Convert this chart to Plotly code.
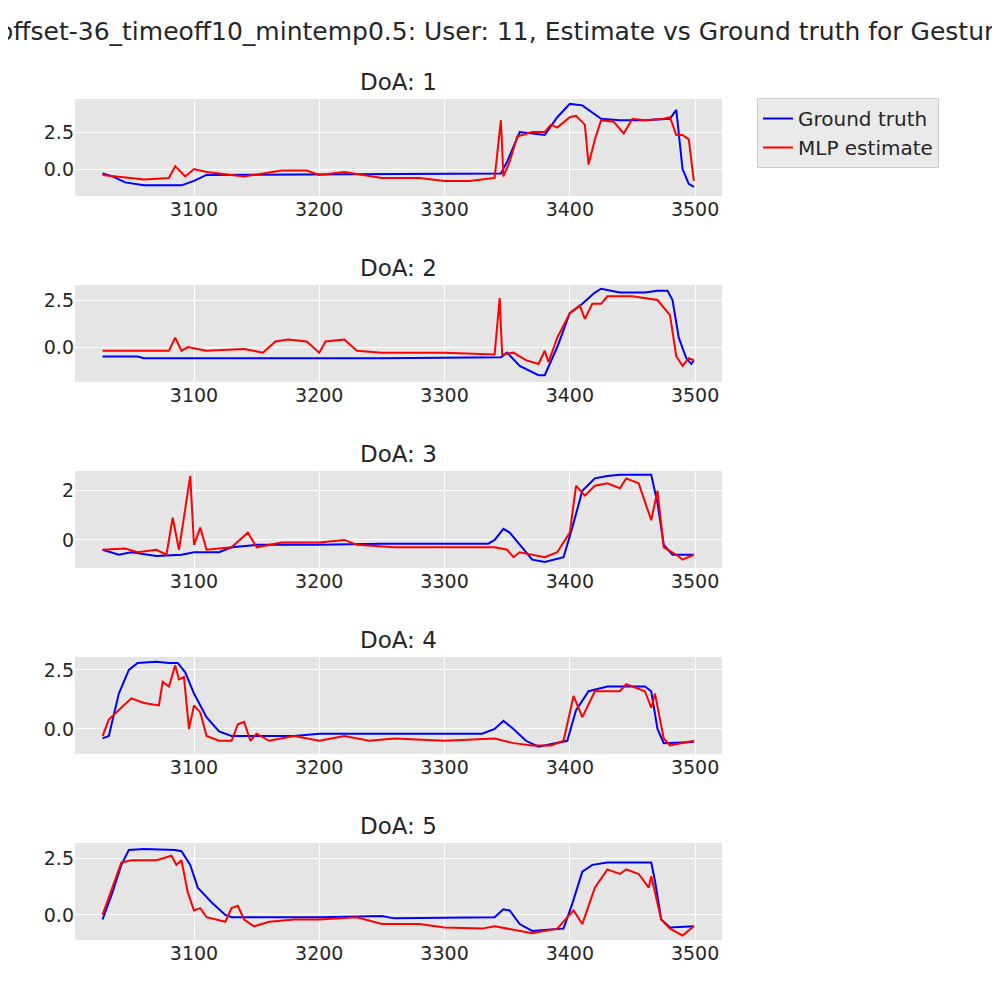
import plotly.graph_objects as go

# keypoints: (time, value)
gt_t1 = [3027, 3035, 3045, 3060, 3090, 3100, 3110, 3250, 3345, 3350, 3360, 3380, 3390, 3400, 3410, 3425, 3440, 3460, 3480, 3485, 3490, 3495, 3499]
gt_v1 = [-0.3, -0.5, -0.9, -1.1, -1.1, -0.8, -0.4, -0.35, -0.3, 0.5, 2.5, 2.3, 3.5, 4.4, 4.3, 3.4, 3.3, 3.3, 3.4, 4.0, 0.0, -1.0, -1.2]
mlp_t1 = [3027, 3040, 3060, 3080, 3085, 3093, 3100, 3110, 3140, 3170, 3190, 3200, 3220, 3250, 3280, 3300, 3320, 3340, 3345, 3347, 3352, 3358, 3370, 3380, 3385, 3390, 3400, 3405, 3412, 3415, 3420, 3425, 3435, 3443, 3450, 3460, 3475, 3480, 3485, 3490, 3495, 3499]
mlp_v1 = [-0.4, -0.5, -0.7, -0.6, 0.2, -0.5, 0.0, -0.2, -0.5, -0.1, -0.1, -0.4, -0.2, -0.6, -0.6, -0.8, -0.8, -0.6, 3.3, -0.5, 0.5, 2.2, 2.5, 2.5, 3.0, 2.8, 3.5, 3.6, 3.0, 0.3, 2.0, 3.3, 3.2, 2.4, 3.4, 3.3, 3.4, 3.5, 2.3, 2.3, 2.0, -0.8]

gt_t2 = [3027, 3055, 3060, 3250, 3345, 3350, 3360, 3375, 3380, 3390, 3400, 3410, 3420, 3425, 3440, 3460, 3470, 3478, 3482, 3487, 3493, 3497, 3499]
gt_v2 = [-0.5, -0.5, -0.6, -0.6, -0.55, -0.3, -1.0, -1.5, -1.5, 0.0, 1.8, 2.3, 2.9, 3.1, 2.9, 2.9, 3.0, 3.0, 2.5, 0.5, -0.6, -0.9, -0.7]
mlp_t2 = [3027, 3080, 3085, 3090, 3095, 3110, 3140, 3155, 3165, 3175, 3190, 3200, 3205, 3220, 3230, 3250, 3300, 3340, 3344, 3346, 3355, 3365, 3375, 3380, 3383, 3390, 3400, 3408, 3412, 3418, 3425, 3430, 3450, 3460, 3470, 3480, 3485, 3490, 3495, 3499]
mlp_v2 = [-0.2, -0.2, 0.5, -0.2, 0.0, -0.2, -0.1, -0.3, 0.3, 0.4, 0.3, -0.3, 0.3, 0.4, -0.2, -0.3, -0.3, -0.4, 2.6, -0.4, -0.3, -0.7, -0.9, -0.2, -0.8, 0.5, 1.8, 2.2, 1.5, 2.3, 2.3, 2.7, 2.7, 2.6, 2.5, 1.7, -0.5, -1.0, -0.6, -0.7]

gt_t3 = [3027, 3040, 3050, 3070, 3090, 3100, 3120, 3130, 3150, 3200, 3250, 3335, 3340, 3347, 3352, 3360, 3370, 3380, 3395, 3402, 3410, 3420, 3430, 3440, 3465, 3470, 3475, 3482, 3499]
gt_v3 = [-0.4, -0.6, -0.5, -0.65, -0.6, -0.5, -0.5, -0.3, -0.2, -0.2, -0.15, -0.15, 0.0, 0.45, 0.3, -0.2, -0.8, -0.9, -0.7, 0.5, 2.0, 2.5, 2.6, 2.65, 2.65, 1.5, -0.2, -0.6, -0.6]
mlp_t3 = [3027, 3045, 3055, 3070, 3078, 3083, 3088, 3094, 3097, 3100, 3105, 3110, 3130, 3143, 3150, 3170, 3200, 3220, 3230, 3260, 3300, 3340, 3350, 3355, 3360, 3370, 3380, 3390, 3400, 3405, 3412, 3420, 3430, 3440, 3445, 3455, 3465, 3470, 3475, 3485, 3490, 3499]
mlp_v3 = [-0.4, -0.35, -0.5, -0.4, -0.6, 0.9, -0.4, 1.5, 2.6, -0.2, 0.5, -0.4, -0.3, 0.3, -0.3, -0.1, -0.1, 0.0, -0.2, -0.3, -0.3, -0.3, -0.4, -0.7, -0.5, -0.6, -0.7, -0.5, 0.3, 2.2, 1.8, 2.2, 2.3, 2.1, 2.5, 2.3, 0.8, 2.0, -0.3, -0.6, -0.8, -0.6]

gt_t4 = [3027, 3032, 3040, 3048, 3055, 3070, 3080, 3087, 3093, 3100, 3110, 3120, 3130, 3180, 3200, 3250, 3330, 3340, 3347, 3355, 3365, 3375, 3390, 3398, 3405, 3415, 3430, 3460, 3465, 3470, 3475, 3499]
gt_v4 = [-0.4, -0.3, 1.5, 2.5, 2.8, 2.85, 2.8, 2.8, 2.4, 1.5, 0.5, -0.1, -0.3, -0.3, -0.2, -0.2, -0.2, 0.0, 0.35, 0.0, -0.5, -0.75, -0.6, -0.5, 0.8, 1.6, 1.8, 1.8, 1.6, 0.0, -0.6, -0.55]
mlp_t4 = [3027, 3032, 3040, 3050, 3060, 3072, 3075, 3080, 3085, 3088, 3092, 3096, 3100, 3105, 3110, 3120, 3130, 3135, 3140, 3145, 3150, 3160, 3180, 3200, 3220, 3240, 3260, 3300, 3340, 3355, 3370, 3385, 3395, 3403, 3410, 3420, 3440, 3445, 3460, 3465, 3468, 3475, 3480, 3499]
mlp_v4 = [-0.3, 0.4, 0.8, 1.3, 1.1, 1.0, 2.0, 1.8, 2.7, 2.1, 2.2, 0.0, 1.0, 0.7, -0.3, -0.5, -0.5, 0.2, 0.3, -0.5, -0.2, -0.5, -0.3, -0.5, -0.3, -0.5, -0.4, -0.5, -0.4, -0.6, -0.7, -0.7, -0.5, 1.4, 0.5, 1.6, 1.6, 1.9, 1.6, 0.9, 1.5, -0.4, -0.7, -0.5]

gt_t5 = [3027, 3035, 3042, 3048, 3060, 3085, 3090, 3097, 3103, 3115, 3125, 3130, 3200, 3250, 3260, 3340, 3347, 3352, 3360, 3370, 3395, 3402, 3410, 3418, 3430, 3465, 3468, 3473, 3480, 3499]
gt_v5 = [-0.2, 1.0, 2.2, 2.85, 2.9, 2.85, 2.8, 2.2, 1.2, 0.5, 0.0, -0.1, -0.1, -0.05, -0.15, -0.1, 0.25, 0.2, -0.4, -0.7, -0.6, 0.5, 1.9, 2.2, 2.3, 2.3, 1.5, -0.2, -0.55, -0.5]
mlp_t5 = [3027, 3035, 3042, 3050, 3070, 3082, 3086, 3090, 3095, 3100, 3105, 3110, 3125, 3130, 3135, 3140, 3148, 3160, 3180, 3200, 3230, 3250, 3280, 3300, 3330, 3340, 3350, 3360, 3370, 3390, 3403, 3410, 3420, 3430, 3440, 3445, 3455, 3463, 3465, 3473, 3480, 3490, 3499]
mlp_v5 = [0.0, 1.2, 2.3, 2.4, 2.4, 2.6, 2.2, 2.4, 1.0, 0.2, 0.3, -0.1, -0.3, 0.3, 0.4, -0.2, -0.5, -0.3, -0.2, -0.2, -0.1, -0.4, -0.4, -0.55, -0.6, -0.5, -0.6, -0.7, -0.8, -0.6, 0.2, -0.4, 1.2, 2.0, 1.8, 2.0, 1.8, 1.2, 1.7, -0.2, -0.6, -0.9, -0.5]

panels = [
    (gt_t1, gt_v1, mlp_t1, mlp_v1, [-1.82, 4.73], 2.5),
    (gt_t2, gt_v2, mlp_t2, mlp_v2, [-1.86, 3.3], 2.5),
    (gt_t3, gt_v3, mlp_t3, mlp_v3, [-1.14, 2.8], 2),
    (gt_t4, gt_v4, mlp_t4, mlp_v4, [-1.06, 3.05], 2.5),
    (gt_t5, gt_v5, mlp_t5, mlp_v5, [-1.1, 3.16], 2.5),
]
# pixel rows of each panel (top, bottom), corrected for the page offset
rows = [(91, 188), (277, 374), (463, 560), (649, 746), (835, 932)]

fig = go.Figure()
annotations = []
layout = {}
for i, (gt, gv, mt, mv, yr, dt) in enumerate(panels):
    n = "" if i == 0 else str(i + 1)
    top, bot = rows[i]
    fig.add_trace(go.Scatter(x=gt, y=gv, mode="lines", line=dict(color="blue", width=2),
                             name="Ground truth", showlegend=(i == 0), xaxis="x" + n, yaxis="y" + n))
    fig.add_trace(go.Scatter(x=mt, y=mv, mode="lines", line=dict(color="red", width=2),
                             name="MLP estimate", showlegend=(i == 0), xaxis="x" + n, yaxis="y" + n))
    layout["xaxis" + n] = dict(domain=[0.067, 0.714], range=[3005, 3521.5], anchor="y" + n,
                               tickvals=[3100, 3200, 3300, 3400, 3500], gridcolor="white",
                               showline=False, zeroline=False, ticks="")
    layout["yaxis" + n] = dict(domain=[1 - bot / 1000, 1 - top / 1000], range=yr, anchor="x" + n,
                               dtick=dt, tick0=0, tickformat=".1f" if dt == 2.5 else "d",
                               gridcolor="white", zeroline=False, ticks="")
    annotations.append(dict(text="DoA: %d" % (i + 1), x=0.3905, y=1 - top / 1000 + 0.002,
                            xref="paper", yref="paper", xanchor="center", yanchor="bottom",
                            showarrow=False, font=dict(size=23, color="#262626")))

annotations.append(dict(text="offset-36_timeoff10_mintemp0.5: User: 11, Estimate vs Ground truth for Gesture",
                        x=-0.012, y=0.977, xref="paper", yref="paper", xanchor="left", yanchor="middle",
                        showarrow=False, font=dict(size=25, color="#262626")))

fig.update_layout(
    width=1000, height=1000, margin=dict(l=0, r=0, t=0, b=0),
    plot_bgcolor="#e5e5e5", paper_bgcolor="white",
    font=dict(family="DejaVu Sans", size=19, color="#262626"),
    annotations=annotations,
    legend=dict(x=0.749, y=0.91, xanchor="left", yanchor="top", bgcolor="#eaeaea",
                bordercolor="#cccccc", borderwidth=1, font=dict(size=20)),
    **layout
)
fig.write_html("out.html")
